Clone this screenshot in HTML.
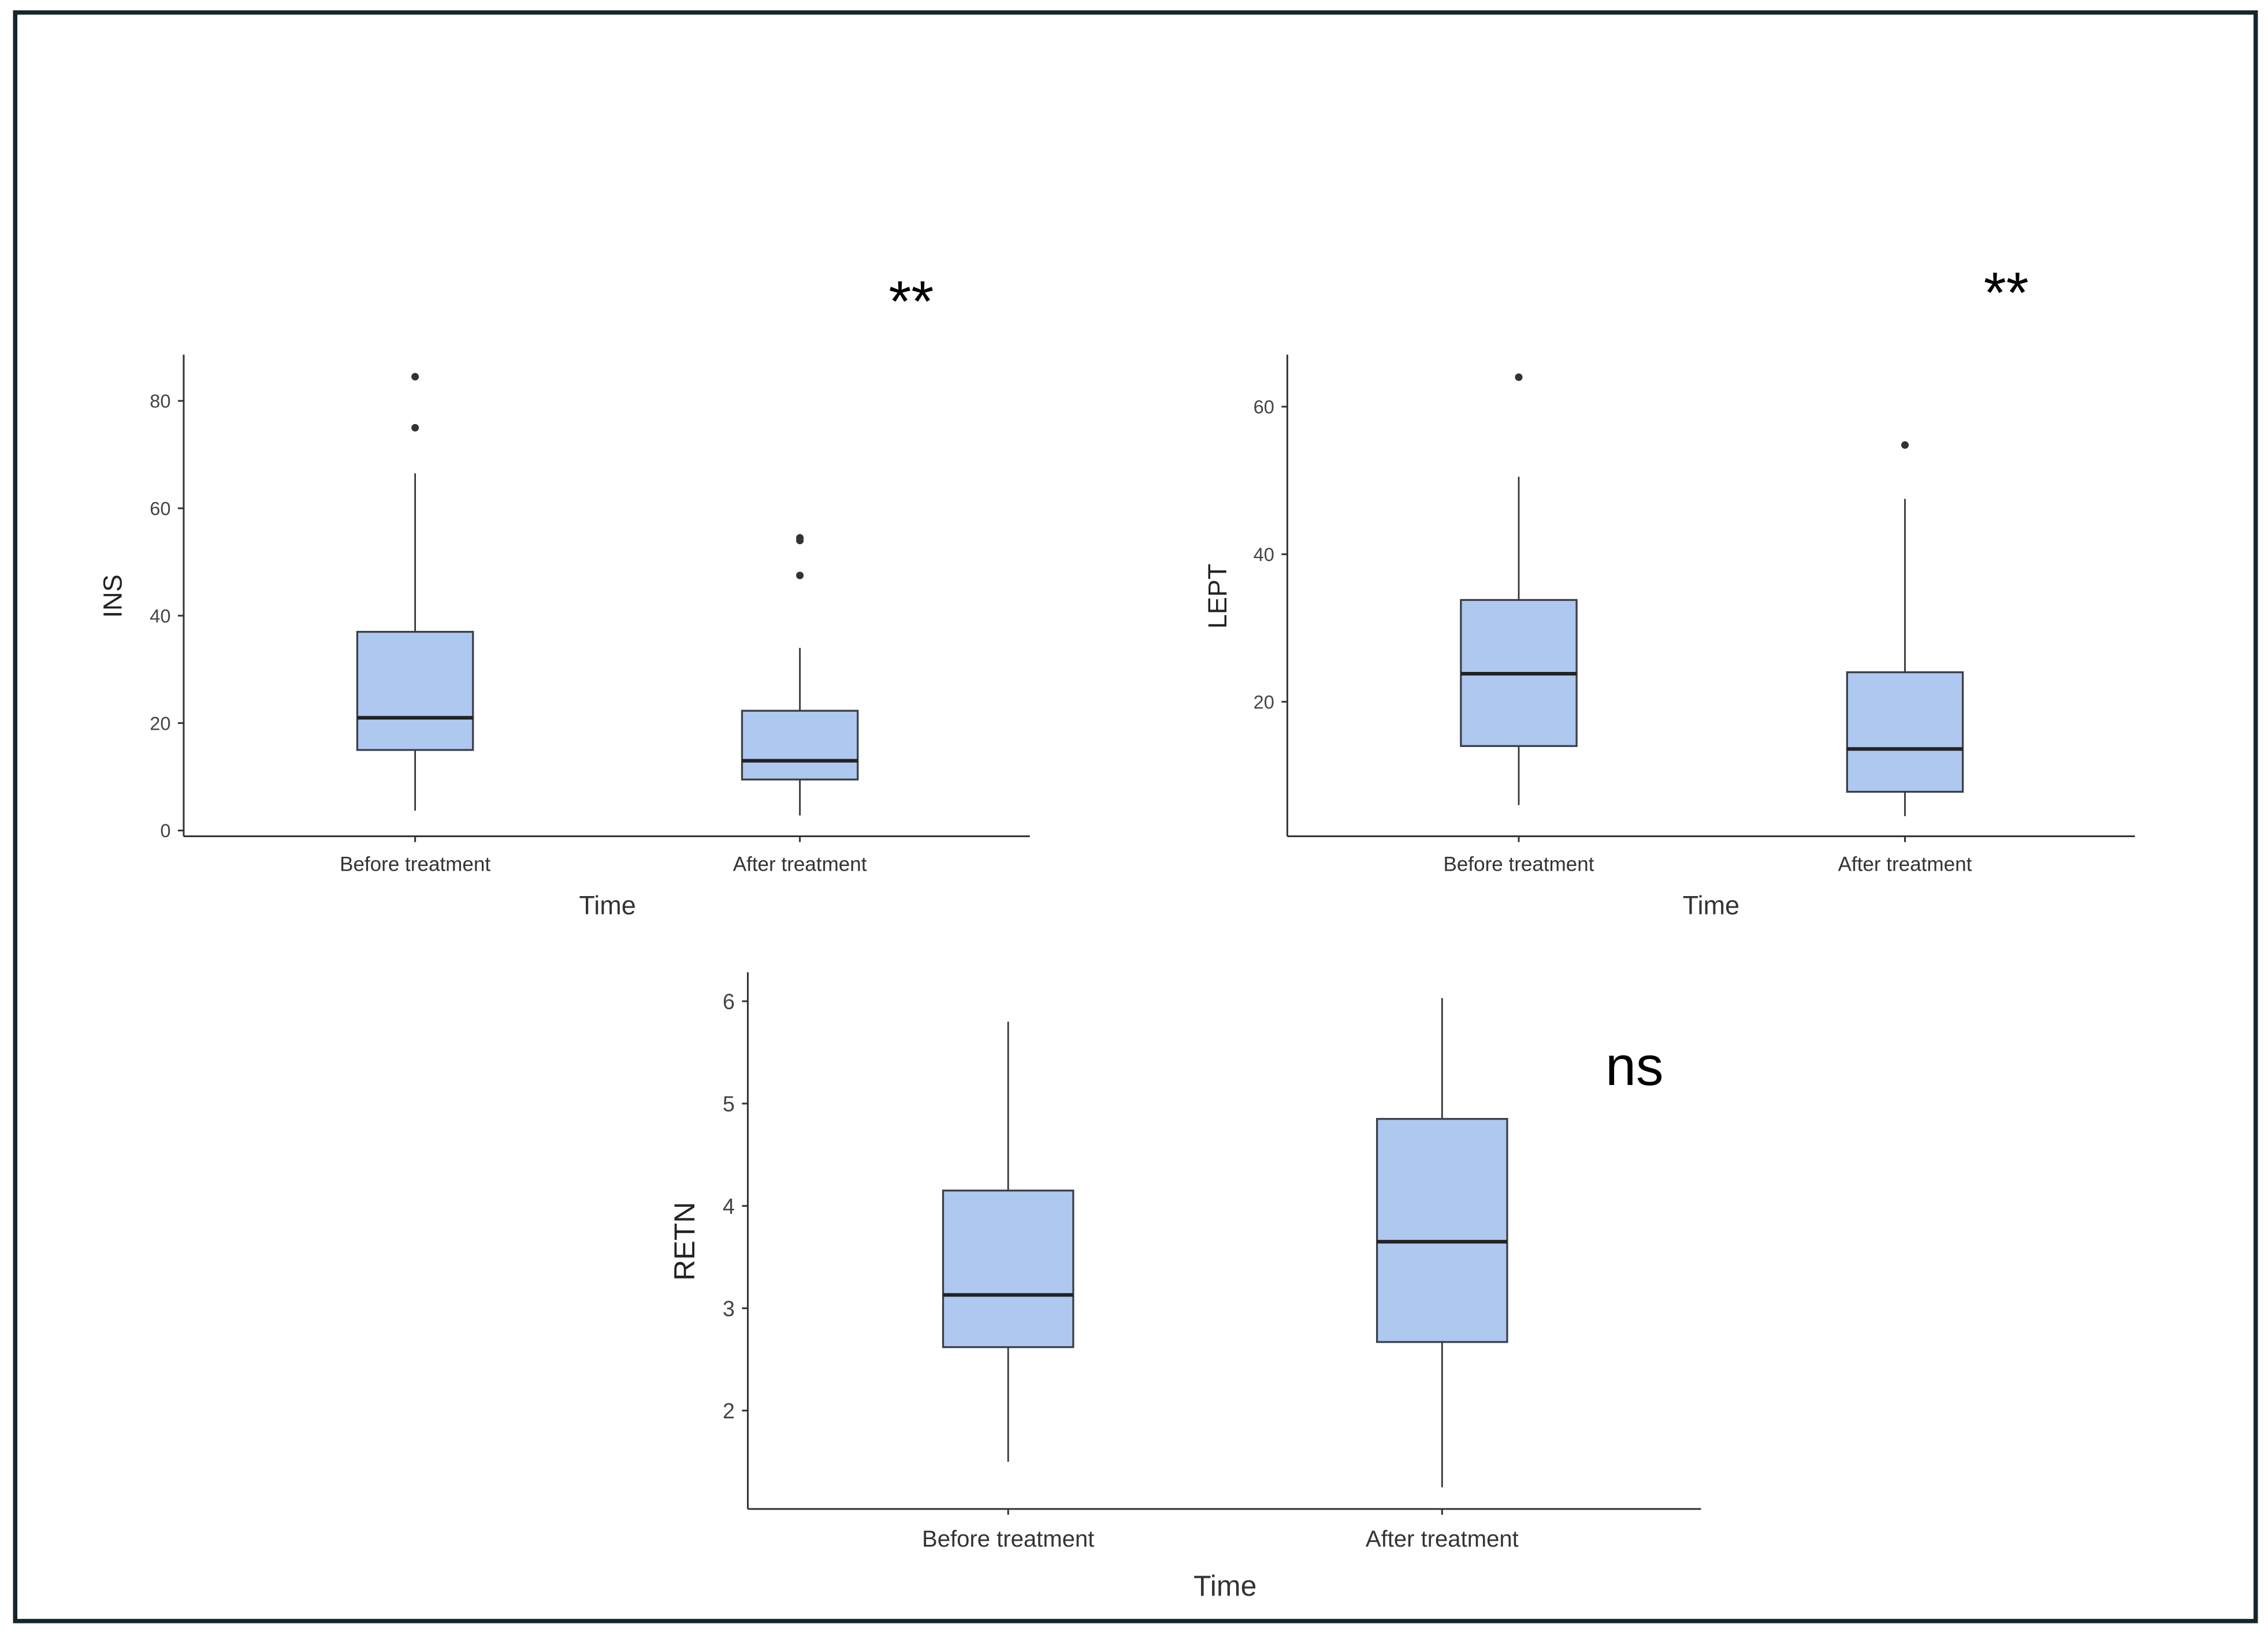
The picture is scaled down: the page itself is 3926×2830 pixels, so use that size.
<!DOCTYPE html>
<html><head><meta charset="utf-8"><style>
html,body{margin:0;padding:0;background:#fff;}
svg{display:block;}
text{font-family:"Liberation Sans",sans-serif;}
</style></head><body>
<svg id="chart" width="3926" height="2830" viewBox="0 0 1568 1130" xmlns="http://www.w3.org/2000/svg">
<rect x="0" y="0" width="1568" height="1130" fill="#fff"/>
<rect x="10.5" y="8.5" width="1549" height="1112" fill="none" stroke="#15262e" stroke-width="3"/>
</svg>
<script>
const categories = ["Before treatment", "After treatment"];
// [whiskerLow, q1, median, q3, whiskerHigh]
const insStats = [[3.7, 15, 21, 37, 66.5], [2.8, 9.5, 13, 22.3, 34]];
const insOutliers = [[75, 84.5], [47.5, 54, 54.5]];
const insTicks = [0, 20, 40, 60, 80];
const leptStats = [[6, 14, 23.8, 33.8, 50.5], [4.5, 7.8, 13.6, 24, 47.5]];
const leptOutliers = [[64], [54.8]];
const leptTicks = [20, 40, 60];
const retnStats = [[1.5, 2.62, 3.13, 4.15, 5.8], [1.25, 2.67, 3.65, 4.85, 6.03]];
const retnOutliers = [[], []];
const retnTicks = [2, 3, 4, 5, 6];

const svg = document.getElementById('chart');
const NS = 'http://www.w3.org/2000/svg';
function mk(tag, attrs, parent) {
  const e = document.createElementNS(NS, tag);
  for (const k in attrs) e.setAttribute(k, attrs[k]);
  (parent || svg).appendChild(e);
  return e;
}
function txt(s, attrs, parent) { const t = mk('text', attrs, parent); t.textContent = s; return t; }

function panel(cfg) {
  const g = mk('g', {});
  
  
  const y = v => cfg.y0 - (v - cfg.v0) * cfg.ppu;
  const x = i => cfg.xs[i];
  const ax = mk('line', {x1: cfg.left, y1: cfg.top, x2: cfg.left, y2: cfg.bottom, stroke: '#333', 'stroke-width': 1.2}, g);
  
  
  const xa = mk('line', {x1: cfg.left, y1: cfg.bottom, x2: cfg.right, y2: cfg.bottom, stroke: '#333', 'stroke-width': 1.2}, g);
  
  
  cfg.ticks.forEach(t => {
    mk('line', {x1: cfg.left - 4, y1: y(t), x2: cfg.left, y2: y(t), stroke: '#333', 'stroke-width': 1.2}, g);
    const l = txt(String(t), {x: cfg.left - 9, y: y(t) + cfg.tf * 0.36, 'text-anchor': 'end', 'font-size': cfg.tf, fill: '#444'}, g);
    
    
  });
  categories.forEach((c, i) => {
    mk('line', {x1: x(i), y1: cfg.bottom, x2: x(i), y2: cfg.bottom + 4, stroke: '#333', 'stroke-width': 1.2}, g);
    const l = txt(c, {x: x(i), y: cfg.bottom + cfg.cf + 10, 'text-anchor': 'middle', 'font-size': cfg.cf, fill: '#333'}, g);
    
    
    const s = cfg.stats[i];
    const hw = cfg.bw / 2;
    const w1 = mk('line', {x1: x(i), y1: y(s[0]), x2: x(i), y2: y(s[1]), stroke: '#333', 'stroke-width': 1.1}, g);
    
    
    const w2 = mk('line', {x1: x(i), y1: y(s[3]), x2: x(i), y2: y(s[4]), stroke: '#333', 'stroke-width': 1.1}, g);
    
    
    const b = mk('rect', {x: x(i) - hw, y: y(s[3]), width: cfg.bw, height: y(s[1]) - y(s[3]), fill: '#aec8f0', stroke: '#3a3f48', 'stroke-width': 1.3}, g);
    
    
    const m = mk('line', {x1: x(i) - hw, y1: y(s[2]), x2: x(i) + hw, y2: y(s[2]), stroke: '#222', 'stroke-width': 2.5}, g);
    
    
    cfg.outliers[i].forEach(o => {
      const p = mk('circle', {cx: x(i), cy: y(o), r: 2.6, fill: '#333'}, g);
      
      
    });
  });
  const yl = txt(cfg.ylabel, {x: 0, y: 0, transform: `translate(${cfg.ylx},${cfg.yly}) rotate(-90)`, 'text-anchor': 'middle', 'font-size': cfg.lf, fill: '#222'}, g);
  
  
  const xl = txt('Time', {x: cfg.xlx, y: cfg.xly, 'text-anchor': 'middle', 'font-size': cfg.lf, fill: '#333'}, g);
  
  
  const sg = txt(cfg.sig, {x: cfg.sx, y: cfg.sy, 'text-anchor': 'middle', 'font-size': cfg.sf, fill: '#000'}, g);
  
  
}

panel({name: 'ins', left: 127, right: 712, top: 245, bottom: 578, y0: 574, v0: 0, ppu: 74.25 / 20,
  xs: [287, 553], bw: 80, stats: insStats, outliers: insOutliers, ticks: insTicks, tf: 13, cf: 14, lf: 18,
  ylabel: 'INS', ylx: 84, yly: 412, xlx: 420, xly: 632, sig: '**', sx: 630, sy: 222, sf: 40});
panel({name: 'lept', left: 890, right: 1476, top: 245, bottom: 578, y0: 587, v0: 0, ppu: 102 / 20,
  xs: [1050, 1317], bw: 80, stats: leptStats, outliers: leptOutliers, ticks: leptTicks, tf: 13, cf: 14, lf: 18,
  ylabel: 'LEPT', ylx: 848, yly: 412, xlx: 1183, xly: 632, sig: '**', sx: 1387, sy: 216, sf: 40});
panel({name: 'retn', left: 517, right: 1176, top: 672, bottom: 1043, y0: 975, v0: 2, ppu: 70.75,
  xs: [697, 997], bw: 90, stats: retnStats, outliers: retnOutliers, ticks: retnTicks, tf: 15, cf: 16, lf: 20,
  ylabel: 'RETN', ylx: 480, yly: 858, xlx: 847, xly: 1103, sig: 'ns', sx: 1130, sy: 750, sf: 38});
</script>
</body></html>
